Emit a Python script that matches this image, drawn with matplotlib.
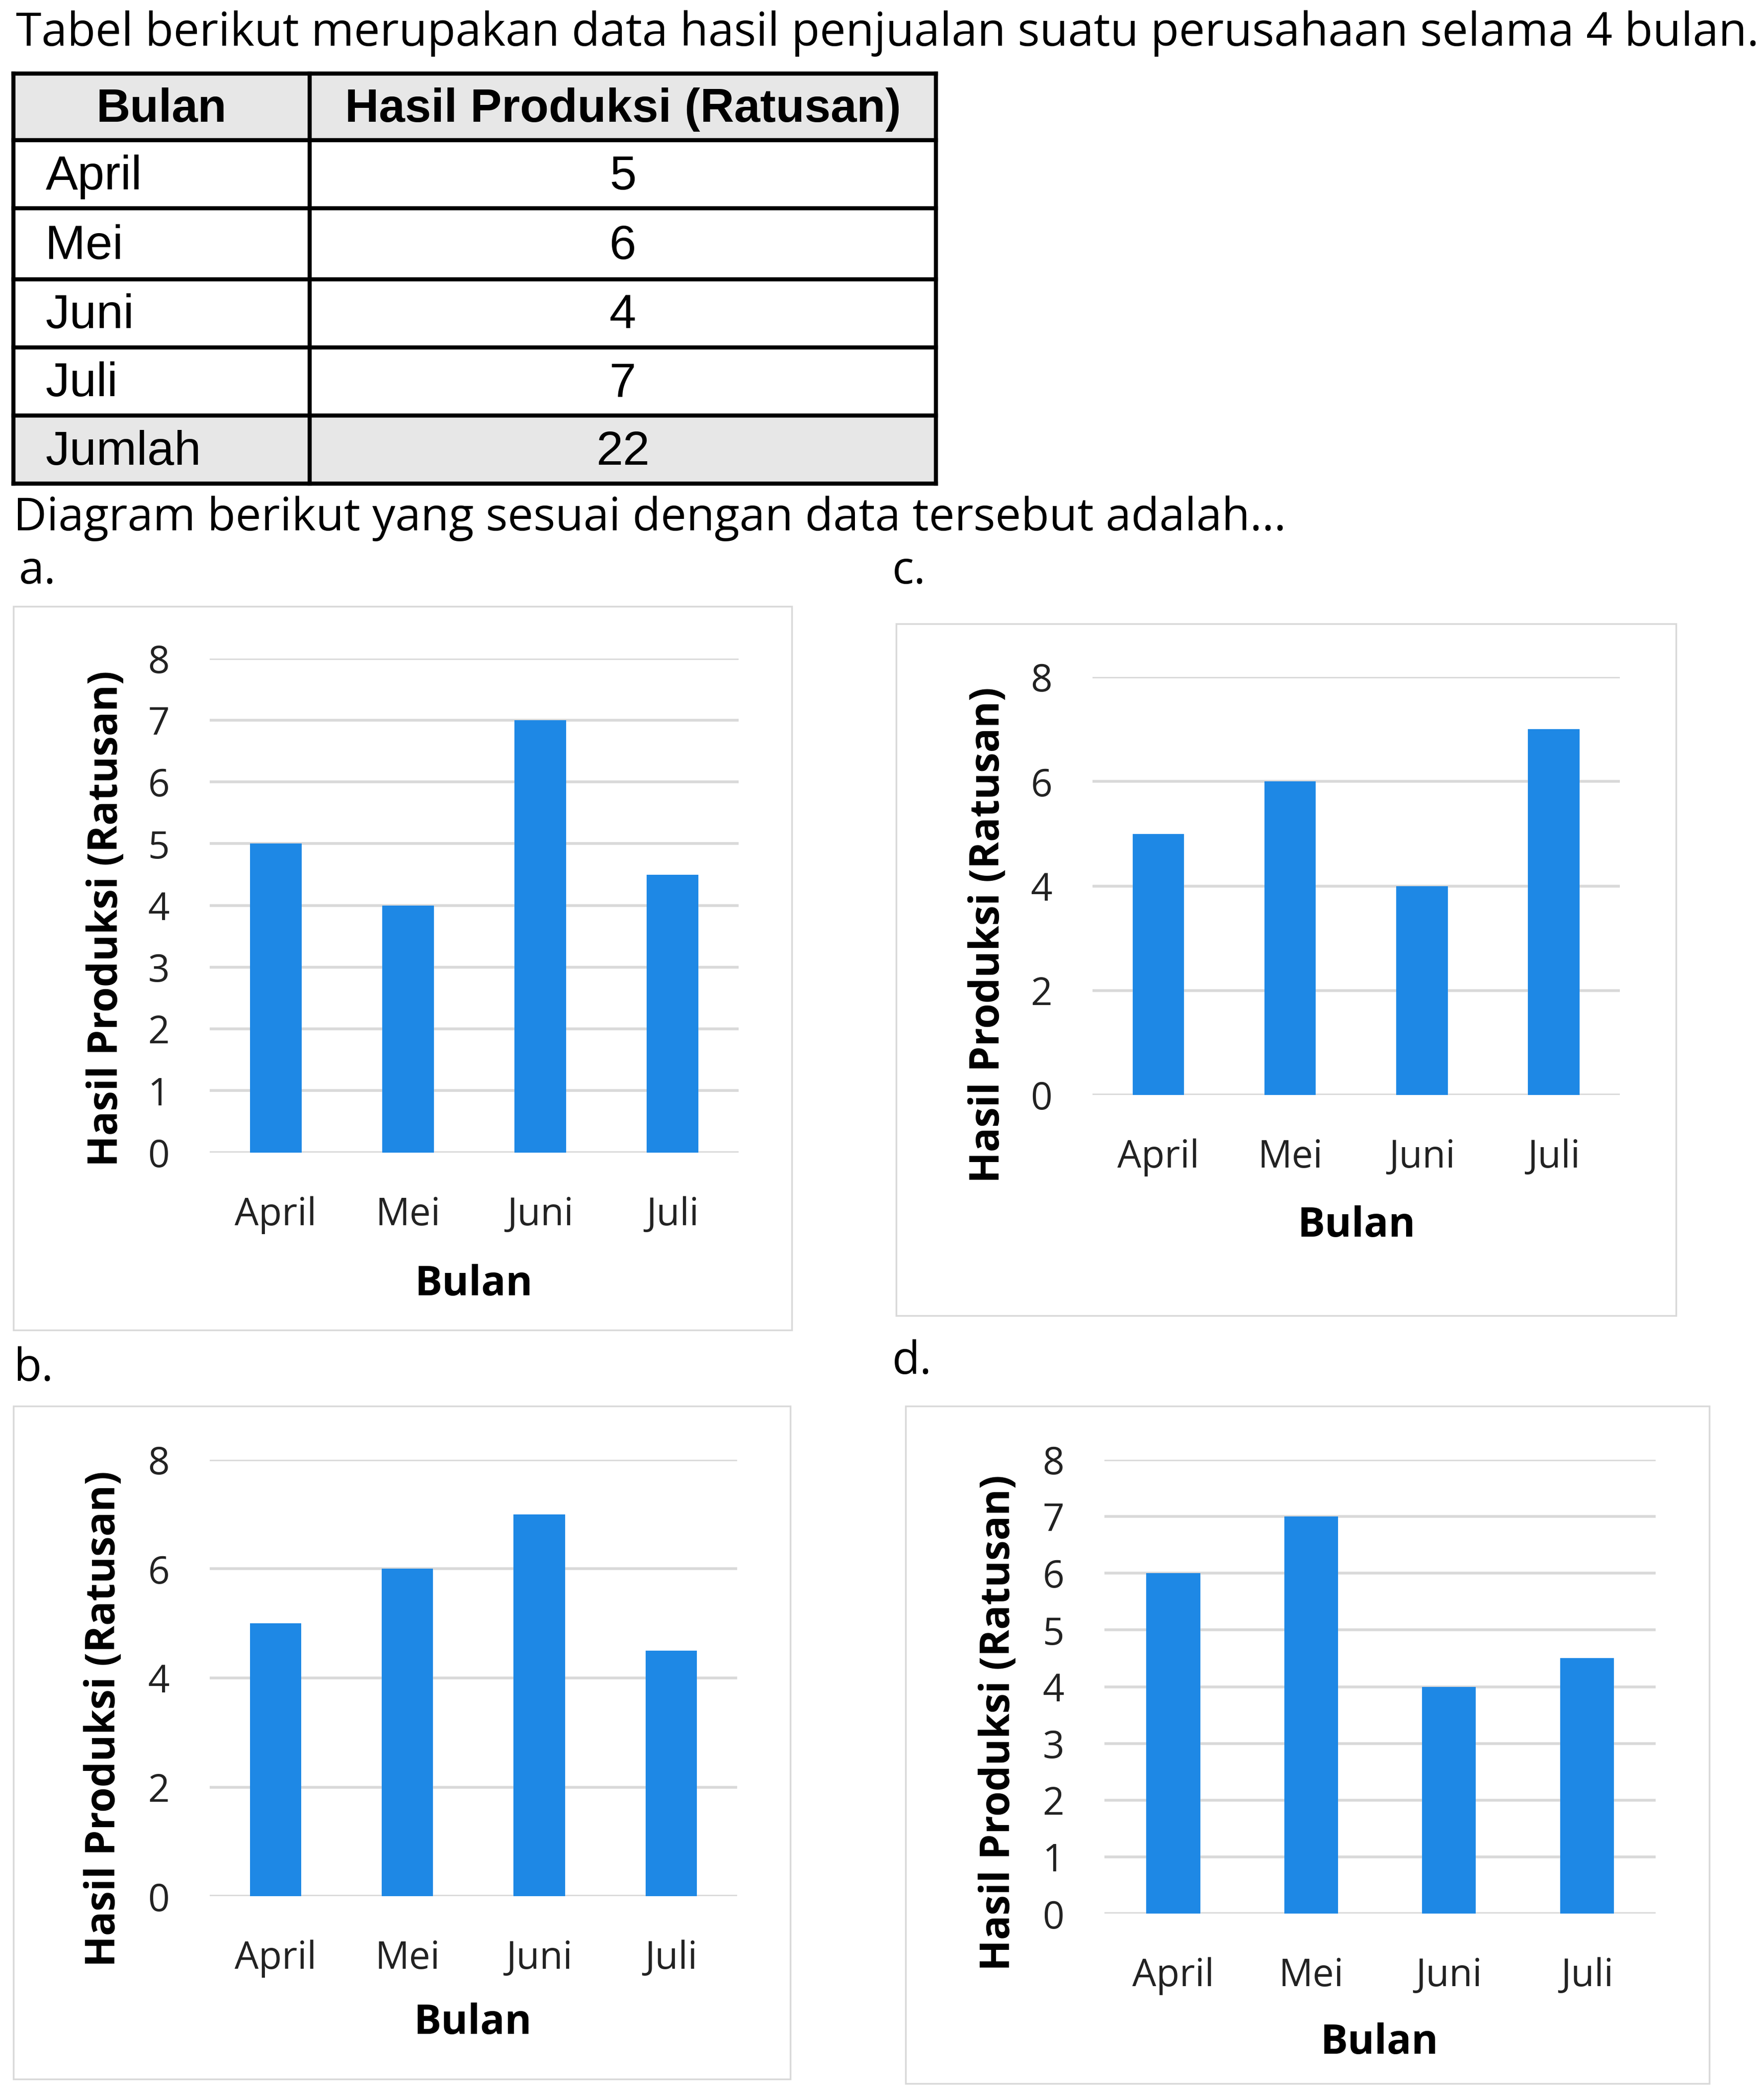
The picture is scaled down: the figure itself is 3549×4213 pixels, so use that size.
import matplotlib
matplotlib.use('Agg')
import matplotlib.pyplot as plt
from matplotlib.patches import Rectangle

# data
months = ['April', 'Mei', 'Juni', 'Juli']
table_values = [5, 6, 4, 7]
total_label = 'Jumlah'
total_value = 22

values_a = [5, 4, 7, 4.5]
values_b = [5, 6, 7, 4.5]
values_c = [5, 6, 4, 7]
values_d = [6, 7, 4, 4.5]
ticks_a = [0, 1, 2, 3, 4, 5, 6, 7, 8]
ticks_b = [0, 2, 4, 6, 8]
ticks_c = [0, 2, 4, 6, 8]
ticks_d = [0, 1, 2, 3, 4, 5, 6, 7, 8]

title = 'Tabel berikut merupakan data hasil penjualan suatu perusahaan selama 4 bulan.'
question = 'Diagram berikut yang sesuai dengan data tersebut adalah...'
col_heads = ['Bulan', 'Hasil Produksi (Ratusan)']
ylab = 'Hasil Produksi (Ratusan)'
xlab = 'Bulan'

BAR = '#1E88E5'
GRID = '#d9d9d9'

# layout in reference units (1321 x 1568)
W, H = 1321.0, 1568.0


def rect(l, t, r, b):
    return [l / W, 1 - b / H, (r - l) / W, (b - t) / H]


fig = plt.figure(figsize=(35.49, 42.13), dpi=100)
bg = fig.add_axes([0, 0, 1, 1])
bg.set_xlim(0, W)
bg.set_ylim(H, 0)
bg.axis('off')

txt_font = 'Open Sans'
tab_font = 'Liberation Sans'

bg.text(12, 25, title, fontsize=67, family=txt_font, va='center', ha='left')
bg.text(10, 388, question, fontsize=66.5, family=txt_font, va='center', ha='left')

# table
tx0, tx1, tx2 = 10, 232, 701
rows_y = [55, 105, 156, 209, 260, 311, 362]
bg.add_patch(Rectangle((tx0, rows_y[0]), tx2 - tx0, rows_y[1] - rows_y[0],
                       facecolor='#e7e7e7', edgecolor='none', zorder=1))
bg.add_patch(Rectangle((tx0, rows_y[5]), tx2 - tx0, rows_y[6] - rows_y[5],
                       facecolor='#e7e7e7', edgecolor='none', zorder=1))
for y in rows_y:
    bg.plot([tx0, tx2], [y, y], color='black', lw=6, zorder=3, solid_capstyle='projecting')
for x in [tx0, tx1, tx2]:
    bg.plot([x, x], [rows_y[0], rows_y[-1]], color='black', lw=6, zorder=3,
            solid_capstyle='projecting')

def mid(i):
    return (rows_y[i] + rows_y[i + 1]) / 2 + 2

bg.text((tx0 + tx1) / 2, mid(0), col_heads[0], fontsize=68, family=tab_font,
        weight='bold', ha='center', va='center')
bg.text((tx1 + tx2) / 2, mid(0), col_heads[1], fontsize=68, family=tab_font,
        weight='bold', ha='center', va='center')
names = months + [total_label]
vals = table_values + [total_value]
for i, (n, v) in enumerate(zip(names, vals)):
    bg.text(34, mid(i + 1), n, fontsize=70, family=tab_font, ha='left', va='center')
    bg.text((tx1 + tx2) / 2, mid(i + 1), str(v), fontsize=70, family=tab_font,
            ha='center', va='center')

# option letters
bg.text(14, 428, 'a.', fontsize=66, family=txt_font, va='center')
bg.text(668, 428, 'c.', fontsize=66, family=txt_font, va='center')
bg.text(10, 1025, 'b.', fontsize=66, family=txt_font, va='center')
bg.text(668, 1020, 'd.', fontsize=66, family=txt_font, va='center')

panels = [
    # values, ticks, frame, plot area, ylabel pos, xlabel pos
    (values_a, ticks_a, (10, 454, 593, 996), (157, 493, 553, 863), (80, 688), (355, 962)),
    (values_c, ticks_c, (671, 467, 1255, 985), (818, 507, 1213, 820), (740, 700), (1016, 918)),
    (values_b, ticks_b, (10, 1053, 592, 1557), (157, 1093, 552, 1420), (78, 1287), (354, 1515)),
    (values_d, ticks_d, (678, 1053, 1280, 1560), (827, 1093, 1240, 1433), (748, 1290), (1033, 1530)),
]

for vals_p, ticks, frame, area, ypos, xpos in panels:
    l, t, r, b = frame
    bg.add_patch(Rectangle((l, t), r - l, b - t, facecolor='none',
                           edgecolor=GRID, lw=2.5, zorder=2))
    ax = fig.add_axes(rect(*area))
    ax.bar(range(len(months)), vals_p, width=0.39, color=BAR, zorder=3)
    ax.set_xlim(-0.5, len(months) - 0.5)
    ax.set_ylim(0, 8)
    ax.set_yticks(ticks)
    ax.set_xticks(range(len(months)))
    ax.set_xticklabels(months)
    ax.yaxis.grid(True, color=GRID, lw=4, zorder=0)
    ax.set_axisbelow(True)
    for s in ax.spines.values():
        s.set_visible(False)
    ax.tick_params(axis='both', length=0, labelsize=55, colors='#222222')
    ax.tick_params(axis='y', pad=58)
    ax.tick_params(axis='x', pad=63)
    for lab in ax.get_xticklabels() + ax.get_yticklabels():
        lab.set_family(txt_font)
    bg.text(ypos[0], ypos[1], ylab, rotation=90, fontsize=59, family=txt_font,
            weight='bold', ha='center', va='center')
    bg.text(xpos[0], xpos[1], xlab, fontsize=59, family=txt_font,
            weight='bold', ha='center', va='center')

fig.savefig('out.png', dpi=100)
